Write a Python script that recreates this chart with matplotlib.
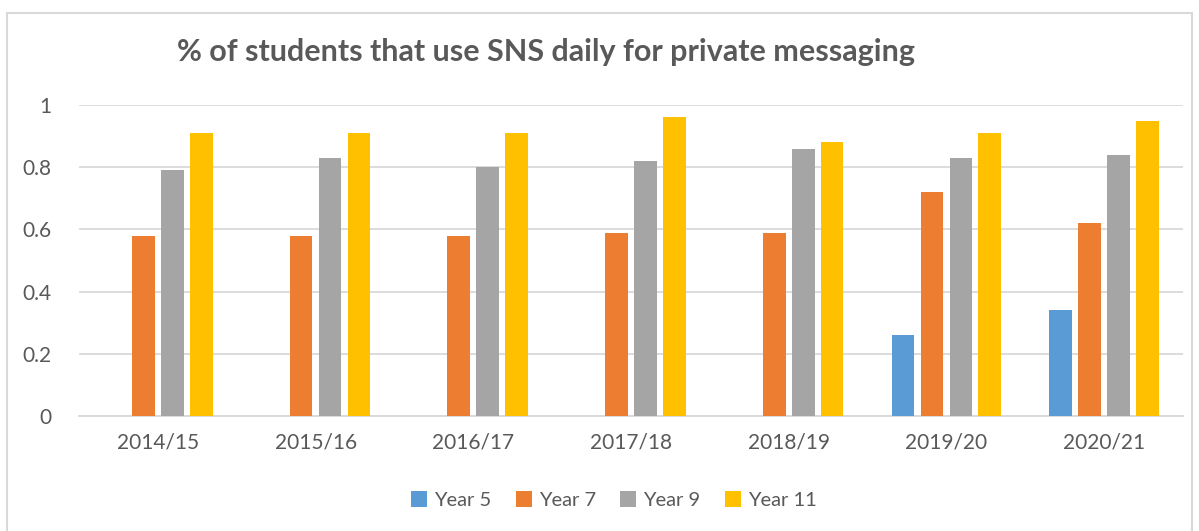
import matplotlib.pyplot as plt
from matplotlib.patches import Rectangle
import numpy as np

plt.rcParams['font.family'] = ['Lato', 'DejaVu Sans']

years = ["2014/15", "2015/16", "2016/17", "2017/18", "2018/19", "2019/20", "2020/21"]
year5 = [0, 0, 0, 0, 0, 0.26, 0.34]
year7 = [0.58, 0.58, 0.58, 0.59, 0.59, 0.72, 0.62]
year9 = [0.79, 0.83, 0.80, 0.82, 0.86, 0.83, 0.84]
year11 = [0.91, 0.91, 0.91, 0.96, 0.88, 0.91, 0.95]

series = [("Year 5", year5, "#5b9bd5"),
          ("Year 7", year7, "#ed7d31"),
          ("Year 9", year9, "#a5a5a5"),
          ("Year 11", year11, "#ffc000")]

text_color = "#595959"
grid_color = "#d9d9d9"

fig = plt.figure(figsize=(11.99, 5.31), dpi=100)
ax = fig.add_axes([79 / 1199, 1 - 416 / 531, (1183 - 79) / 1199, (416 - 105) / 531])

# outer chart border
fig.patches.append(Rectangle((7 / 1199, -0.01), 1185 / 1199, 1 - 13 / 531 + 0.01,
                             transform=fig.transFigure, fill=False,
                             edgecolor=grid_color, linewidth=1.5))

x = np.arange(len(years))
step = 0.183
width = 0.144
for i, (name, vals, color) in enumerate(series):
    ax.bar(x + (i - 1.5) * step, vals, width, color=color, label=name, zorder=3)

ax.set_xlim(-0.5, len(years) - 0.5)
ax.set_ylim(0, 1)
ax.set_yticks([0, 0.2, 0.4, 0.6, 0.8, 1])
ax.set_yticklabels(["0", "0.2", "0.4", "0.6", "0.8", "1"])
ax.set_xticks(x)
ax.set_xticklabels(years)
ax.tick_params(axis='both', length=0, labelsize=15, colors=text_color)
ax.tick_params(axis='x', pad=12)
ax.tick_params(axis='y', pad=20)
ax.yaxis.grid(True, color=grid_color, linewidth=1.3, zorder=0)
for spine in ["top", "right", "left"]:
    ax.spines[spine].set_visible(False)
ax.spines["bottom"].set_color(grid_color)
ax.spines["bottom"].set_linewidth(1.3)

fig.text(546 / 1199, 1 - 52 / 531, "% of students that use SNS daily for private messaging",
         ha="center", va="center", fontsize=22, fontweight="bold", color=text_color)

fig.legend(loc="center", bbox_to_anchor=(614 / 1199, 1 - 500 / 531), ncol=4,
           frameon=False, fontsize=14.5, labelcolor=text_color,
           handlelength=0.8, handleheight=0.8, handletextpad=0.35, columnspacing=1.2)

fig.savefig("out.png", dpi=100)
